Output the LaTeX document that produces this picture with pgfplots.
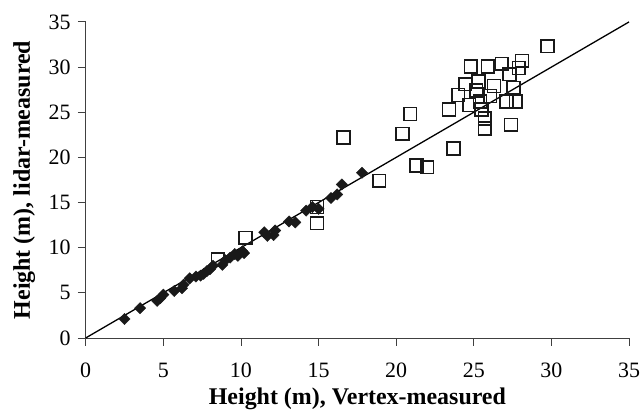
\documentclass[border=0pt]{standalone}
\usepackage{pgfplots}
\pgfplotsset{compat=1.18}
\usepackage{fontspec}
\setmainfont{Liberation Serif}

% Vertex vs lidar tree heights
\pgfplotstableread{
x y
2.5 2.1
3.5 3.3
4.6 4.1
4.8 4.4
5.0 4.8
5.7 5.2
6.2 5.5
6.3 5.9
6.7 6.6
7.1 6.8
7.4 6.9
7.6 7.1
7.8 7.4
8.0 7.6
8.2 8.0
8.8 8.1
9.0 8.6
9.3 8.9
9.6 9.3
9.8 9.1
10.1 9.6
10.2 9.4
11.5 11.7
11.7 11.3
12.1 11.4
12.2 11.9
13.1 12.9
13.5 12.8
14.2 14.1
14.6 14.5
15.0 14.3
15.8 15.5
16.2 15.9
16.5 17.0
17.8 18.3
}\vertex

\pgfplotstableread{
x y
8.5 8.7
10.3 11.1
14.9 14.5
14.9 12.7
16.6 22.2
18.9 17.4
20.4 22.6
20.9 24.8
21.3 19.1
22.0 18.9
23.7 21.0
23.4 25.3
24.0 26.9
24.45 28.1
24.7 25.8
24.8 30.05
25.15 27.4
25.3 28.4
25.4 26.2
25.5 25.3
25.7 24.3
25.7 23.2
25.9 30.05
26.05 26.8
26.3 27.9
26.8 30.35
27.1 26.2
27.3 29.2
27.4 23.6
27.55 27.7
27.7 26.2
27.9 29.9
28.1 30.7
29.75 32.3
}\lidar

\begin{document}
\begin{tikzpicture}
\begin{axis}[
    scale only axis,
    width=545pt,
    height=317pt,
    xmin=0, xmax=35,
    ymin=0, ymax=35,
    xtick={0,5,...,35},
    ytick={0,5,...,35},
    axis lines*=left,
    axis line style={line width=0.9pt, black!75},
    tick style={line width=0.9pt, black!75},
    tick align=outside,
    major tick length=8pt,
    ticklabel style={font=\fontsize{22}{24}\selectfont, inner sep=1pt},
    /pgf/number format/assume math mode=true,
    xticklabel style={yshift=-16pt},
    yticklabel style={xshift=-6pt},
    xlabel={\textbf{Height (m), Vertex-measured}},
    ylabel={\textbf{Height (m), lidar-measured}},
    label style={font=\fontsize{24}{26}\selectfont},
    xlabel style={at={([yshift=-67pt]axis description cs:0.5,0)}, anchor=base},
    ylabel style={at={([xshift=-56pt]axis description cs:0,0.5)}, anchor=base},
    clip=false,
]
\path (rel axis cs:0,0) ++(-86pt,-69pt);
\path (rel axis cs:1,1) ++(12pt,22pt);
\addplot[black, line width=1.3pt, no marks] coordinates {(0,0) (35,35)};
\addplot[only marks, mark=square*, mark size=4pt,
    mark options={rotate=45, fill=black!90, draw=black!90}] table {\vertex};
\addplot[only marks, mark=square, mark size=6.4pt,
    mark options={line width=1.6pt, draw=black!90, fill=none}] table {\lidar};
\end{axis}
\end{tikzpicture}
\end{document}
